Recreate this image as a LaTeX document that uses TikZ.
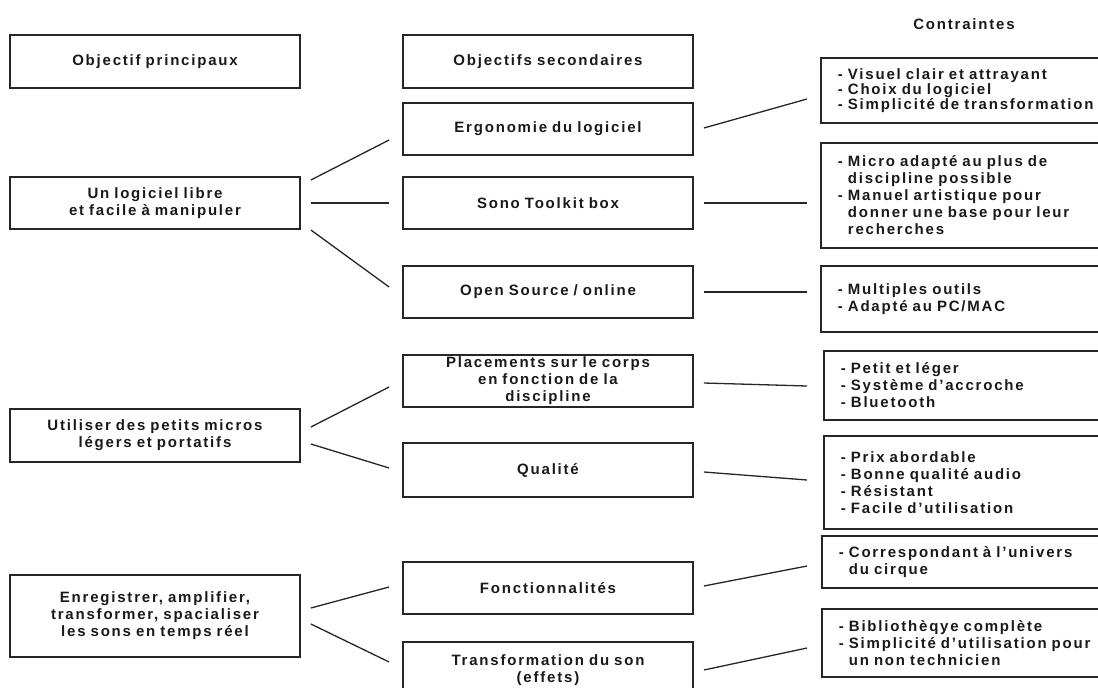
\documentclass[tikz,border=0pt]{standalone}
\usepackage{fontspec}
\setmainfont{Liberation Sans}[LetterSpace=12, WordSpace=1.3]
\usetikzlibrary{positioning}

\begin{document}
\begin{tikzpicture}[ x = 1pt, y = -1pt
                   , font = \bfseries\fontsize{15}{17}\selectfont
                   , every node/.style = { text = black!90 }
                   , goalbox/.style = { rectangle
                                      , draw = black!85
                                      , line width = 1.8pt
                                      , align = center
                                      , text width = 290pt
                                      , inner xsep = 0pt
                                      , inner ysep = 0pt
                                      , minimum height = 52pt }
                   , limitbox/.style = { rectangle
                                       , draw = black!85
                                       , line width = 1.8pt
                                       , anchor = west
                                       , align = left
                                       , text width = 320pt
                                       , inner xsep = 17pt
                                       , inner ysep = 0pt }
                   , link/.style = { draw = black!85, line width = 1.3pt }
                   ]

  \useasboundingbox (0,0) rectangle (1098,688);

  \node (principal) [goalbox, minimum height = 53pt] at (155,61.5) {Objectif principaux};
  \node (secondaire) [goalbox, minimum height = 53pt] at (548,61.5) {Objectifs secondaires};
  \node (contraintes) at (964,24) {Contraintes};

  \node (logiciel) [goalbox] at (155,203) {Un logiciel libre\\ et facile à manipuler};
  \node (micros) [goalbox, minimum height = 53pt] at (155,435.5) {Utiliser des petits micros\\ légers et portatifs};
  \node (sons) [goalbox, minimum height = 82pt] at (155,616) {Enregistrer, amplifier,\\ transformer, spacialiser\\ les sons en temps réel};

  \node (ergonomie) [goalbox] at (548,129) {Ergonomie du logiciel};
  \node (toolkit) [goalbox] at (548,203) {Sono Toolkit box};
  \node (opensource) [goalbox] at (548,292) {Open Source / online};
  \node (placement) [goalbox] at (548,381) {Placements sur le corps\\ en fonction de la\\ discipline};
  \node (qualite) [goalbox, minimum height = 54pt] at (548,470) {Qualité};
  \node (fonction) [goalbox] at (548,588) {Fonctionnalités};
  \node (effets) [goalbox, minimum height = 56pt] at (548,670) {Transformation du son\\ (effets)};

  \node (c-ergonomie) [limitbox, minimum height = 65pt, font = \bfseries\fontsize{15}{13}\selectfont] at (820,90.5)
  {- Visuel clair et attrayant\\ - Choix du logiciel\\ - Simplicité de transformation};
  \node (c-toolkit) [limitbox, minimum height = 105pt] at (820,195.5)
  {- Micro adapté au plus de\\ \phantom{- }discipline possible\\ - Manuel artistique pour\\ \phantom{- }donner une base pour leur\\ \phantom{- }recherches};
  \node (c-opensource) [limitbox, minimum height = 66pt] at (820,299)
  {- Multiples outils\\ - Adapté au PC/MAC};
  \node (c-placement) [limitbox, minimum height = 69pt] at (823,385.5)
  {- Petit et léger\\ - Système d’accroche\\ - Bluetooth};
  \node (c-qualite) [limitbox, minimum height = 93pt] at (823,482.5)
  {- Prix abordable\\ - Bonne qualité audio\\ - Résistant\\ - Facile d’utilisation};
  \node (c-fonction) [limitbox, minimum height = 52pt] at (821,562)
  {- Correspondant à l’univers\\ \phantom{- }du cirque};
  \node (c-effets) [limitbox, minimum height = 68pt] at (821,643)
  {- Bibliothèqye complète\\ - Simplicité d’utilisation pour\\ \phantom{- }un non technicien};

  \draw [link] ([shift={(10,-23)}]logiciel.east) -- ([shift={(-13,11)}]ergonomie.west);
  \draw [link] ([shift={(10,0)}]logiciel.east) -- ([shift={(-13,0)}]toolkit.west);
  \draw [link] ([shift={(10,27)}]logiciel.east) -- ([shift={(-13,-5)}]opensource.west);
  \draw [link] ([shift={(10,-8.5)}]micros.east) -- ([shift={(-13,6)}]placement.west);
  \draw [link] ([shift={(10,8.5)}]micros.east) -- ([shift={(-13,-2)}]qualite.west);
  \draw [link] ([shift={(10,-8)}]sons.east) -- ([shift={(-13,-1)}]fonction.west);
  \draw [link] ([shift={(10,8)}]sons.east) -- ([shift={(-13,-8)}]effets.west);

  \draw [link] ([shift={(10,-1)}]ergonomie.east) -- ([shift={(-13,8.5)}]c-ergonomie.west);
  \draw [link] ([shift={(10,0)}]toolkit.east) -- ([shift={(-13,7.5)}]c-toolkit.west);
  \draw [link] ([shift={(10,0)}]opensource.east) -- ([shift={(-13,-7)}]c-opensource.west);
  \draw [link] ([shift={(10,2)}]placement.east) -- ([shift={(-16,0.5)}]c-placement.west);
  \draw [link] ([shift={(10,2)}]qualite.east) -- ([shift={(-16,-2.5)}]c-qualite.west);
  \draw [link] ([shift={(10,-2)}]fonction.east) -- ([shift={(-14,4)}]c-fonction.west);
  \draw [link] ([shift={(10,0)}]effets.east) -- ([shift={(-14,5)}]c-effets.west);

\end{tikzpicture}
\end{document}
